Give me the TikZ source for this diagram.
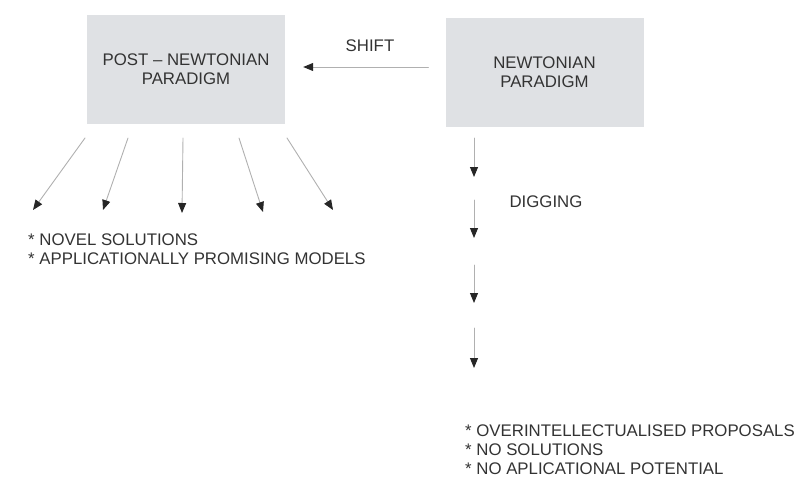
\documentclass[tikz,border=0pt]{standalone}
\usepackage{fontspec}
\setmainfont{Liberation Sans}
\usetikzlibrary{arrows.meta}

\definecolor{boxgray}{HTML}{DFE1E4}
\definecolor{linegray}{HTML}{B0B0B0}
\definecolor{inkgray}{HTML}{333333}

\begin{document}
\begin{tikzpicture}[x=1pt, y=-1pt, line cap=round,
    font=\fontsize{16.8}{18.8}\selectfont, text=inkgray,
    paradigm/.style={fill=boxgray, draw=none, minimum width=198pt, minimum height=109pt, align=center, inner sep=0pt},
    flow/.style={draw=linegray, line width=0.9pt, -{Triangle[length=10pt, width=8pt, fill=black!85, color=black!85]}},
    remark/.style={align=left, anchor=west, inner sep=0pt}]
  \useasboundingbox (0,0) rectangle (802,479);
  % the two paradigms
  \node[paradigm] (post) at (186,69.5) {POST -- NEWTONIAN\\PARADIGM};
  \node[paradigm] (newton) at (544.5,72.5) {NEWTONIAN\\PARADIGM};
  % shift
  \draw[flow, shorten <=17pt, shorten >=18pt] ([yshift=5.5pt]newton.west) -- ([yshift=5.5pt]newton.west -| post.east);
  \node (shift) at (370,46) {SHIFT};
  % fan of outcomes
  \foreach \sx/\ex/\ey [count=\i] in {85/33/210, 128/103/210, 183/182/213, 239/263/212, 287/333/210} {
    \coordinate (f\i) at (\sx,138);
    \coordinate (g\i) at (\ex,\ey);
    \draw[flow] (f\i) -- (g\i);
  }
  \node[remark] (novel) at (28,249.5) {* NOVEL SOLUTIONS\\* APPLICATIONALLY PROMISING MODELS};
  % digging down
  \foreach \ya/\yb [count=\i] in {138/177, 200/238, 265/303, 328/368} {
    \coordinate (d\i) at (474,\ya);
    \coordinate (e\i) at (474,\yb);
    \draw[flow] (d\i) -- (e\i);
  }
  \node (digging) at (546,202) {DIGGING};
  \node[remark] (over) at (465,450) {* OVERINTELLECTUALISED PROPOSALS\\* NO SOLUTIONS\\* NO APLICATIONAL POTENTIAL};
\end{tikzpicture}
\end{document}
